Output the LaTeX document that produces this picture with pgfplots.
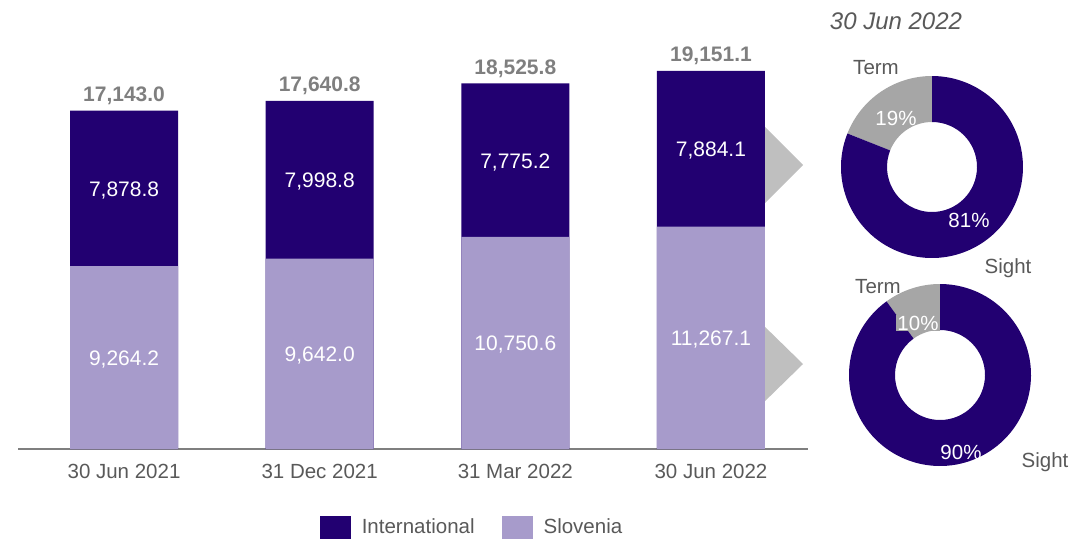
\documentclass[border=0pt]{standalone}
\usepackage{pgfplots}
\pgfplotsset{compat=1.18}
\usepackage{fontspec}
\setmainfont{Liberation Sans}

\definecolor{intl}{HTML}{220071}
\definecolor{slo}{HTML}{A79BCB}
\definecolor{termgray}{HTML}{A6A6A6}
\definecolor{arrowgray}{HTML}{BFBFBF}
\definecolor{txtgray}{HTML}{595959}
\definecolor{totgray}{HTML}{7F7F7F}
\newcommand{\fs}[1]{\fontsize{#1bp}{#1bp}\selectfont}
\tikzset{dlab/.style={font=\fs{20.5}, text=txtgray},
         plab/.style={font=\fs{20.5}, text=white}}

% donut: centre x, centre y (px from top left), share of Term in percent
\newcommand{\donut}[3]{%
  \pgfmathsetmacro{\ang}{90+3.6*#3}%
  \fill[termgray] ([shift={(90:91bp)}]#1bp,-#2bp) arc[start angle=90, end angle=\ang, radius=91bp]
     -- ([shift={(\ang:45bp)}]#1bp,-#2bp) arc[start angle=\ang, end angle=90, radius=45bp] -- cycle;
  \fill[intl] ([shift={(\ang:91bp)}]#1bp,-#2bp) arc[start angle=\ang, end angle=450, radius=91bp]
     -- ([shift={(450:45bp)}]#1bp,-#2bp) arc[start angle=450, end angle=\ang, radius=45bp] -- cycle;
}

\begin{document}
\begin{tikzpicture}
\path[use as bounding box] (0,0) rectangle (1081bp,-540bp);

% arrows towards the donuts
\fill[arrowgray] (760bp,-122bp) -- (803bp,-165bp) -- (760bp,-208bp) -- cycle;
\fill[arrowgray] (760bp,-322bp) -- (803bp,-364bp) -- (760bp,-406bp) -- cycle;

\begin{axis}[
    at={(18bp,-449bp)}, anchor=south west,
    scale only axis, width=790bp, height=394.8bp,
    xmin=-0.542, xmax=3.496, ymin=0, ymax=20000,
    ybar, bar width=108bp, bar shift=0pt,
    axis x line*=bottom, axis y line=none,
    x axis line style={draw=totgray, line width=1.5bp, -},
    every outer x axis line/.append style={-},
    xtick={0,1,2,3},
    xticklabels={30 Jun 2021, 31 Dec 2021, 31 Mar 2022, 30 Jun 2022},
    major tick length=0pt,
    xticklabel style={font=\fs{20.5}, text=txtgray, yshift=-12bp},
    ytick=\empty,
    clip=false,
    legend columns=2,
    legend style={at={(axis description cs:0.5747,-0.1976)}, anchor=center,
        draw=none, fill=none, inner sep=0pt,
        font=\fs{20.5}, text=txtgray,
        /tikz/every even column/.append style={column sep=25bp}},
    point meta=explicit symbolic,
]
% total = International on top of Slovenia
\addplot[fill=intl, draw=none,
    legend image code/.code={\fill[intl] (0bp,-11.5bp) rectangle (31bp,11.5bp); \path (40bp,0bp);},
    nodes near coords,
    every node near coord/.append style={anchor=base, yshift=9bp, inner sep=0pt,
        font=\bfseries\fs{21}, text=totgray}]
  coordinates {(0,17143.0) [{17,143.0}] (1,17640.8) [{17,640.8}]
               (2,18525.8) [{18,525.8}] (3,19151.1) [{19,151.1}]};
\addplot[fill=slo, draw=none,
    legend image code/.code={\fill[slo] (0bp,-11.5bp) rectangle (31bp,11.5bp); \path (40bp,0bp);}]
  coordinates {(0,9264.2) (1,9642.0) (2,10750.6) (3,11267.1)};
\legend{International, Slovenia}

% value labels in the middle of each segment
\addplot[draw=none, fill=none, forget plot, bar width=0pt,
    nodes near coords,
    every node near coord/.append style={anchor=center, inner sep=0pt, yshift=-2bp,
        font=\fs{21}, text=white}]
  coordinates {(0,4632.1) [{9,264.2}] (1,4821.0) [{9,642.0}]
               (2,5375.3) [{10,750.6}] (3,5633.6) [{11,267.1}]
               (0,13203.6) [{7,878.8}] (1,13641.4) [{7,998.8}]
               (2,14638.2) [{7,775.2}] (3,15209.2) [{7,884.1}]};
\end{axis}

% donuts: Term share 19 % and 10 %
\donut{932}{167}{19}
\donut{940}{375}{10}

\node[font=\itshape\fs{24}, text=txtgray] at (896bp,-21bp) {30 Jun 2022};
\node[dlab] at (876bp,-68bp) {Term};
\node[dlab] at (1008bp,-268bp) {Sight};
\node[dlab] at (878bp,-287bp) {Term};
\node[dlab] at (1045bp,-462bp) {Sight};
\node[plab] at (896bp,-118bp) {19\%};
\node[plab] at (969bp,-220bp) {81\%};
\node[plab, fill=termgray, inner sep=1bp] at (918bp,-323bp) {10\%};
\node[plab] at (961bp,-452bp) {90\%};
\end{tikzpicture}
\end{document}
